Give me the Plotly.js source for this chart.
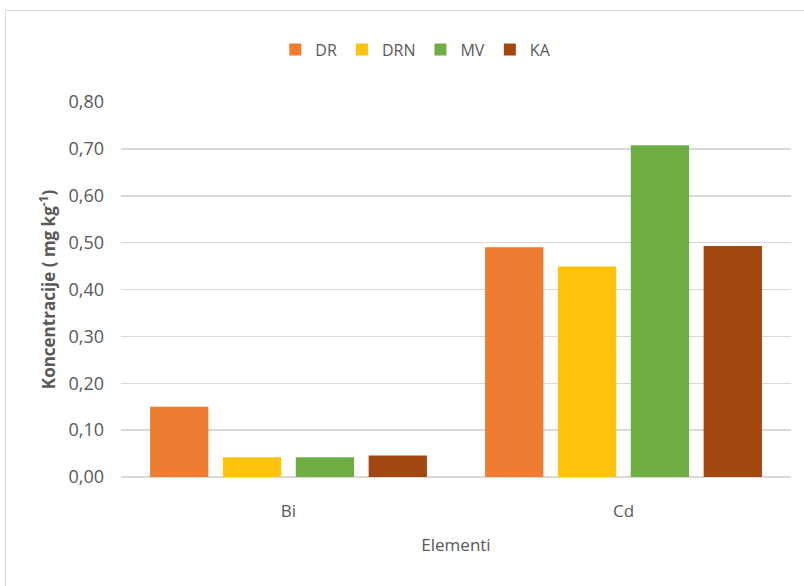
<!DOCTYPE html>
<html><head><meta charset="utf-8">
<script src="https://cdn.plot.ly/plotly-3.0.1.min.js"></script>
<style>
html,body{margin:0;padding:0;background:#fff;}
#frame{position:absolute;left:5px;top:10px;width:820px;height:600px;border:1px solid #d9d9d9;box-sizing:border-box;pointer-events:none;}
#chart{position:absolute;left:0;top:0;width:804px;height:586px;}
</style></head>
<body>
<div id="chart"></div>
<div id="frame"></div>
<script>
const categories = ["Bi", "Cd"];
const seriesNames = ["DR", "DRN", "MV", "KA"];
const DR  = [0.150, 0.490];
const DRN = [0.042, 0.449];
const MV  = [0.042, 0.708];
const KA  = [0.046, 0.493];
const colors = ["#EE7D31", "#FFC20E", "#6FAD45", "#A2470F"];
const yTicks = [0, 0.1, 0.2, 0.3, 0.4, 0.5, 0.6, 0.7, 0.8];
const yTickText = ["0,00","0,10","0,20","0,30","0,40","0,50","0,60","0,70","0,80"];

const values = [DR, DRN, MV, KA];
const font = "Open Sans, Noto Sans, sans-serif";
const traces = seriesNames.map((n, i) => ({
  type: "bar", name: n, x: categories, y: values[i],
  marker: {color: colors[i], line: {width: 0}},
  hoverinfo: "y"
}));

const layout = {
  width: 804, height: 586,
  margin: {l: 121, r: 13, t: 102, b: 109},
  paper_bgcolor: "rgba(0,0,0,0)", plot_bgcolor: "#fff",
  barmode: "group", bargap: 0.13, bargroupgap: 0.2,
  font: {family: font, color: "#595959", size: 14},
  showlegend: true,
  legend: {orientation: "h", x: 0.44, xanchor: "center", y: 1.14, yanchor: "middle",
           font: {size: 16, color: "#595959"}, itemwidth: 30, tracegroupgap: 0},
  xaxis: {
    showgrid: false, zeroline: false, showline: false, ticks: "",
    ticklabelstandoff: 22,
    tickfont: {size: 17, color: "#595959"},
    title: {text: "Elementi", font: {size: 17, color: "#595959"}, standoff: 18}
  },
  yaxis: {
    range: [0, 0.8], tickvals: yTicks, ticktext: yTickText,
    showgrid: true, gridcolor: "#d9d9d9", gridwidth: 1.5,
    zeroline: true, zerolinecolor: "#d9d9d9", zerolinewidth: 1.5,
    showline: false, ticks: "", ticklen: 0,
    ticklabelstandoff: 16,
    tickfont: {size: 18, color: "#595959"},
    title: {text: "<b>Koncentracije ( mg kg<sup>-1</sup>)</b>", font: {size: 17, color: "#595959"}, standoff: 8}
  }
};
Plotly.newPlot("chart", traces, layout, {displayModeBar: false, staticPlot: true});
</script>
</body></html>
